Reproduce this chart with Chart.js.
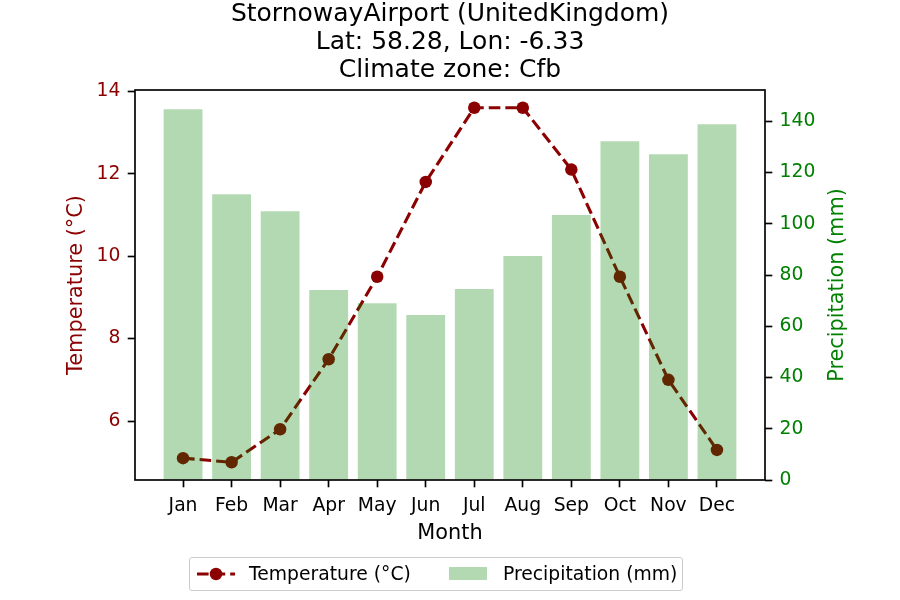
<!DOCTYPE html>
<html>
<head>
<meta charset="utf-8">
<script src="https://cdn.jsdelivr.net/npm/chart.js@4"></script>
<style>
  html, body { margin: 0; padding: 0; background: #fff; }
  #wrap { position: relative; width: 900px; height: 600px; }
  #legend {
    position: absolute; left: 189px; top: 557px; width: 494px; height: 34px;
    box-sizing: border-box; border: 1px solid #cccccc; border-radius: 3px; background: #fff;
    font-family: "DejaVu Sans", sans-serif; font-size: 18.75px; color: #000;
  }
  #legend .item { position: absolute; top: 0; height: 32px; line-height: 32px; white-space: nowrap; }
  #legend svg { position: absolute; }
</style>
</head>
<body>
<div id="wrap">
  <canvas id="c" width="900" height="600"></canvas>
  <div id="legend">
    <svg style="left:7px;top:9px" width="38" height="14">
      <line x1="0" y1="7" x2="38" y2="7" stroke="#8b0000" stroke-width="3.1" stroke-dasharray="11.6 5"/>
      <circle cx="19" cy="7" r="6.25" fill="#8b0000"/>
    </svg>
    <span class="item" style="left:59px">Temperature (°C)</span>
    <div style="position:absolute;left:259px;top:9px;width:38px;height:13px;background:rgba(0,128,0,0.3)"></div>
    <span class="item" style="left:313px">Precipitation (mm)</span>
  </div>
</div>
<script>
const titleLines = ["StornowayAirport (UnitedKingdom)", "Lat: 58.28, Lon: -6.33", "Climate zone: Cfb"];
const months = ["Jan","Feb","Mar","Apr","May","Jun","Jul","Aug","Sep","Oct","Nov","Dec"];
const temperature = [5.1, 5.0, 5.8, 7.5, 9.5, 11.8, 13.6, 13.6, 12.1, 9.5, 7.0, 5.3];
const precipitation = [144.7, 111.5, 104.9, 74.1, 69.0, 64.4, 74.5, 87.4, 103.4, 132.2, 127.1, 138.8];
const tempTicks = [6, 8, 10, 12, 14];
const precipTicks = [0, 20, 40, 60, 80, 100, 120, 140];

const FONT = "DejaVu Sans";
const DARKRED = "#8b0000";
const GREEN = "#008000";
const TICK_FS = 18.75;
const LABEL_FS = 20.83;

const spines = {
  id: "spines",
  afterDatasetsDraw(chart) {
    const {ctx, chartArea: a} = chart;
    ctx.save();
    ctx.strokeStyle = "#000";
    ctx.lineWidth = 1.67;
    ctx.strokeRect(a.left, a.top, a.right - a.left, a.bottom - a.top);
    ctx.restore();
  }
};
const rightTitle = {
  id: "rightTitle",
  afterDraw(chart) {
    const {ctx, chartArea: a} = chart;
    ctx.save();
    ctx.translate(838, (a.top + a.bottom) / 2);
    ctx.rotate(-Math.PI / 2);
    ctx.fillStyle = GREEN;
    ctx.font = LABEL_FS + "px '" + FONT + "'";
    ctx.textAlign = "center";
    ctx.textBaseline = "middle";
    ctx.fillText("Precipitation (mm)", 0, 0);
    ctx.restore();
  }
};

const tickCommon = () => ({
  drawOnChartArea: false, drawTicks: true, tickLength: 7.3, tickWidth: 1.67, tickColor: "#000", color: "#000", offset: false
});

new Chart(document.getElementById("c"), {
  type: "bar",
  data: {
    datasets: [
      {
        type: "bar",
        label: "Precipitation (mm)",
        data: precipitation.map((v, i) => ({x: i, y: v})),
        yAxisID: "y1",
        backgroundColor: "rgba(0,128,0,0.3)",
        borderWidth: 0,
        barPercentage: 0.8,
        categoryPercentage: 1.0,
        order: 1
      },
      {
        type: "line",
        label: "Temperature (°C)",
        data: temperature.map((v, i) => ({x: i, y: v})),
        yAxisID: "y",
        borderColor: DARKRED,
        backgroundColor: DARKRED,
        borderWidth: 3.1,
        borderDash: [11.6, 5],
        pointRadius: 6.25,
        pointBorderWidth: 0,
        pointBackgroundColor: DARKRED,
        tension: 0,
        fill: false,
        order: 2
      }
    ]
  },
  options: {
    responsive: false,
    animation: false,
    devicePixelRatio: 1,
    layout: { padding: 0 },
    plugins: {
      legend: { display: false },
      tooltip: { enabled: false },
      title: {
        display: true,
        text: titleLines,
        color: "#000",
        font: { family: FONT, size: 25, weight: "normal", lineHeight: 28 / 25 },
        padding: { top: 0, bottom: 6 }
      }
    },
    scales: {
      x: {
        type: "linear",
        min: -0.99, max: 11.99,
        offset: false,
        afterBuildTicks: (s) => { s.ticks = months.map((m, i) => ({value: i})); },
        afterFit: (s) => { s.height = 120; },
        ticks: {
          autoSkip: false, maxRotation: 0, padding: 7.3, color: "#000",
          font: { family: FONT, size: TICK_FS },
          callback: (v) => months[Math.round(v)] ?? ""
        },
        grid: tickCommon(),
        border: { display: false },
        title: {
          display: true, text: "Month", color: "#000",
          font: { family: FONT, size: LABEL_FS }, padding: { top: 0, bottom: 54 }
        }
      },
      y: {
        type: "linear", position: "left",
        min: 4.57, max: 14.03,
        afterBuildTicks: (s) => { s.ticks = tempTicks.map(v => ({value: v})); },
        afterFit: (s) => { s.width = 135; },
        ticks: { padding: 7.3, color: DARKRED, font: { family: FONT, size: TICK_FS } },
        grid: tickCommon(),
        border: { display: false },
        title: {
          display: true, text: "Temperature (°C)", color: DARKRED,
          font: { family: FONT, size: LABEL_FS }, padding: { top: 64, bottom: 0 }
        }
      },
      y1: {
        type: "linear", position: "right",
        min: 0, max: 152.2,
        afterBuildTicks: (s) => { s.ticks = precipTicks.map(v => ({value: v})); },
        afterFit: (s) => { s.width = 135; },
        ticks: { padding: 7.3, color: GREEN, font: { family: FONT, size: TICK_FS } },
        grid: tickCommon(),
        border: { display: false },
        title: { display: false }
      }
    }
  },
  plugins: [spines, rightTitle]
});
</script>
</body>
</html>
